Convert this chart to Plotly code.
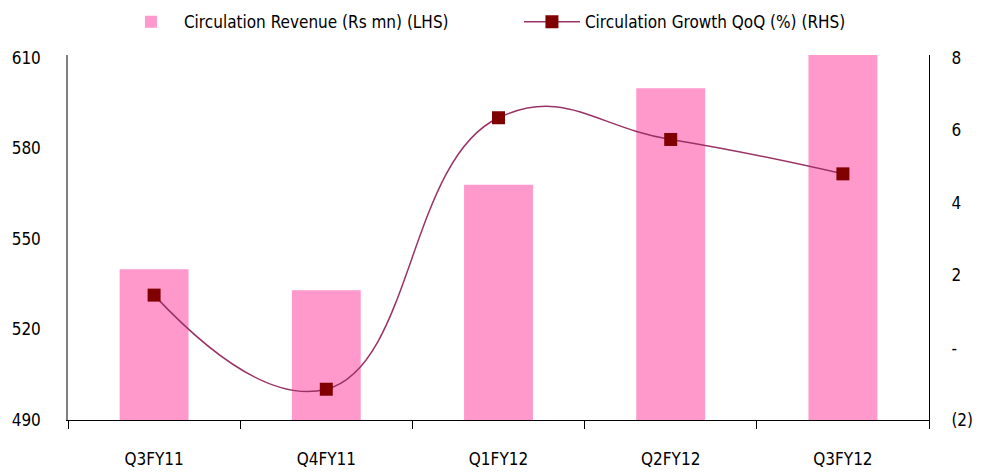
import plotly.graph_objects as go

categories = ["Q3FY11", "Q4FY11", "Q1FY12", "Q2FY12", "Q3FY12"]
revenue = [540, 533, 568, 600, 611]
growth = [1.45, -1.15, 6.35, 5.75, 4.8]

rhs_ticks = [-2, 0, 2, 4, 6, 8]
rhs_text = ["(2)", "-", "2", "4", "6", "8"]
lhs_ticks = [490, 520, 550, 580, 610]

FONT = "DejaVu Sans Condensed, Liberation Sans Narrow, Arial Narrow, sans-serif"

fig = go.Figure()
fig.add_trace(go.Bar(
    x=categories, y=revenue, name="Circulation Revenue (Rs mn) (LHS)",
    marker=dict(color="#FF99CC", line=dict(width=0)), width=0.4,
))
fig.add_trace(go.Scatter(
    x=categories, y=growth, name="Circulation Growth QoQ (%) (RHS)", yaxis="y2",
    mode="lines+markers",
    line=dict(color="#993366", width=1.5, shape="spline", smoothing=1.3),
    marker=dict(symbol="square", size=13, color="#800000"),
))

fig.update_layout(
    width=984, height=464,
    margin=dict(l=60, r=63, t=47, b=52, autoexpand=False),
    paper_bgcolor="white", plot_bgcolor="white",
    font=dict(family=FONT, size=17, color="#000000"),
    showlegend=True,
    legend=dict(orientation="h", x=0.058, xanchor="left", y=1.09, yanchor="middle",
                font=dict(size=17), itemwidth=56, entrywidth=330, entrywidthmode="pixels",
                bgcolor="rgba(0,0,0,0)"),
    xaxis=dict(showgrid=False, showline=True, linecolor="#000000", linewidth=1,
               ticks="outside", tickson="boundaries", ticklen=8, tickcolor="#000000",
               ticklabelstandoff=24, zeroline=False, automargin=False),
    yaxis=dict(range=[490, 611], tickvals=lhs_ticks, showgrid=False, showline=True,
               linecolor="#808080", linewidth=1.5, ticks="", zeroline=False,
               ticklabelstandoff=22, automargin=False),
    yaxis2=dict(range=[-2, 8 + 1/12], tickvals=rhs_ticks, ticktext=rhs_text,
                overlaying="y", side="right", showgrid=False, showline=True,
                linecolor="#000000", linewidth=1, ticks="", zeroline=False,
                ticklabelstandoff=18, automargin=False),
    bargap=0.6,
)

fig.write_html("out.html")
